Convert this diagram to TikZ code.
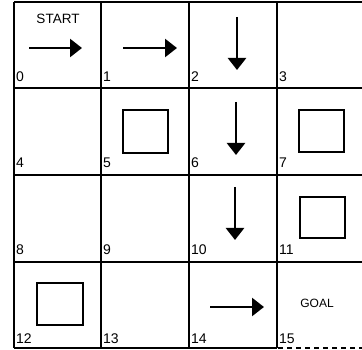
\documentclass[tikz,border=0pt]{standalone}
\usepackage{fontspec}
\setmainfont{Liberation Sans}
\usetikzlibrary{arrows.meta}
\tikzset{
  grid/.style={line width=2pt, black},
  num/.style={anchor=base west, inner sep=0pt, font=\fontsize{14}{14}\selectfont},
  mv/.style={line width=2.5pt, -{Triangle[length=12pt,width=18pt]}},
  wall/.style={line width=1.6pt},
}
\begin{document}
\begin{tikzpicture}[x=1pt,y=-1pt]
\useasboundingbox (0,0) rectangle (362,350);
% grid
\foreach \x in {14,101,189,277} \draw[grid] (\x,2) -- (\x,348);
\foreach \y in {2,88,175,262} \draw[grid] (14,\y) -- (362,\y);
\draw[grid] (14,348) -- (277,348);
\draw[line width=1.6pt, dash pattern=on 5pt off 4pt] (278,348) -- (362,348);
% numbers
\node[num] (n0) at (16,82) {0};
\node[num] (n1) at (103,82) {1};
\node[num] (n2) at (191,82) {2};
\node[num] (n3) at (279,82) {3};
\node[num] (n4) at (16,168) {4};
\node[num] (n5) at (103,168) {5};
\node[num] (n6) at (191,168) {6};
\node[num] (n7) at (279,168) {7};
\node[num] (n8) at (16,255) {8};
\node[num] (n9) at (103,255) {9};
\node[num] (n10) at (191,255) {10};
\node[num] (n11) at (279,255) {11};
\node[num] (n12) at (16,343) {12};
\node[num] (n13) at (103,343) {13};
\node[num] (n14) at (191,343) {14};
\node[num] (n15) at (279,343) {15};
% texts
\node[anchor=base, inner sep=0pt, font=\fontsize{13.5}{13.5}\selectfont] (start) at (58,24) {START};
\node[anchor=base, inner sep=0pt, font=\fontsize{12}{12}\selectfont] (goal) at (317,308) {GOAL};
% arrows
\draw[mv] (29,48) -- (82,48);
\draw[mv] (123,48) -- (177,48);
\draw[mv] (237,17) -- (237,70);
\draw[mv] (236,102) -- (236,155);
\draw[mv] (235,187) -- (235,240);
\draw[mv] (210,307) -- (264,307);
% obstacles
\draw[wall] (123,110) rectangle (168,153);
\draw[wall] (299,110) rectangle (344,152);
\draw[wall] (300,197) rectangle (345,238);
\draw[wall] (37,283) rectangle (83,325);
\end{tikzpicture}
\end{document}
